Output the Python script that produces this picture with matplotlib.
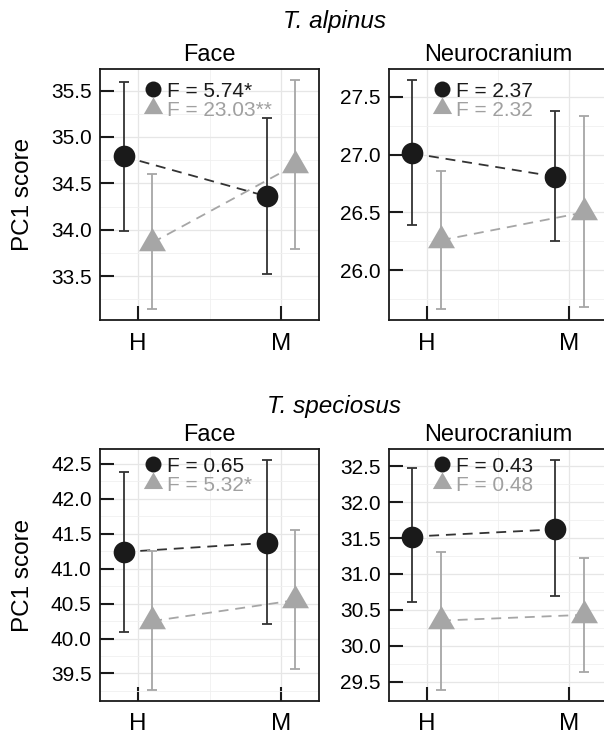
import matplotlib
matplotlib.use('Agg')
import matplotlib.pyplot as plt
from matplotlib.lines import Line2D
from matplotlib.ticker import MultipleLocator

plt.rcParams['font.family'] = ['Liberation Sans', 'DejaVu Sans']

groups = ['H', 'M']
species = ['T. alpinus', 'T. speciosus']
regions = ['Face', 'Neurocranium']

# T. alpinus - Face
alp_face_black = [34.79, 34.36]
alp_face_black_lo = [33.99, 33.52]
alp_face_black_hi = [35.59, 35.20]
alp_face_grey = [33.86, 34.70]
alp_face_grey_lo = [33.15, 33.79]
alp_face_grey_hi = [34.60, 35.61]
alp_face_F = ['F = 5.74*', 'F = 23.03**']

# T. alpinus - Neurocranium
alp_neuro_black = [27.01, 26.81]
alp_neuro_black_lo = [26.39, 26.25]
alp_neuro_black_hi = [27.64, 27.38]
alp_neuro_grey = [26.26, 26.50]
alp_neuro_grey_lo = [25.67, 25.68]
alp_neuro_grey_hi = [26.86, 27.33]
alp_neuro_F = ['F = 2.37', 'F = 2.32']

# T. speciosus - Face
spe_face_black = [41.24, 41.37]
spe_face_black_lo = [40.09, 40.21]
spe_face_black_hi = [42.38, 42.55]
spe_face_grey = [40.25, 40.55]
spe_face_grey_lo = [39.27, 39.57]
spe_face_grey_hi = [41.25, 41.55]
spe_face_F = ['F = 0.65', 'F = 5.32*']

# T. speciosus - Neurocranium
spe_neuro_black = [31.52, 31.62]
spe_neuro_black_lo = [30.61, 30.69]
spe_neuro_black_hi = [32.47, 32.58]
spe_neuro_grey = [30.35, 30.43]
spe_neuro_grey_lo = [29.39, 29.64]
spe_neuro_grey_hi = [31.31, 31.22]
spe_neuro_F = ['F = 0.43', 'F = 0.48']

panels = [
    (alp_face_black, alp_face_black_lo, alp_face_black_hi, alp_face_grey, alp_face_grey_lo, alp_face_grey_hi, alp_face_F),
    (alp_neuro_black, alp_neuro_black_lo, alp_neuro_black_hi, alp_neuro_grey, alp_neuro_grey_lo, alp_neuro_grey_hi, alp_neuro_F),
    (spe_face_black, spe_face_black_lo, spe_face_black_hi, spe_face_grey, spe_face_grey_lo, spe_face_grey_hi, spe_face_F),
    (spe_neuro_black, spe_neuro_black_lo, spe_neuro_black_hi, spe_neuro_grey, spe_neuro_grey_lo, spe_neuro_grey_hi, spe_neuro_F),
]

W, H = 604, 735
black = '#1a1a1a'
grey = '#a6a6a6'
tri = [(0, 1), (-0.866, -0.5), (0.866, -0.5)]

fig = plt.figure(figsize=(W / 100, H / 100), dpi=100)

# axes boxes in pixels: left, top, right, bottom
boxes = [(100, 69, 319, 320), (389, 69, 607, 320),
         (100, 449, 319, 701), (389, 449, 607, 701)]
leg_tops = [0.95, 0.95, 0.97, 0.97]

for i in range(4):
    l, t, r, b = boxes[i]
    ax = fig.add_axes([l / W, 1 - b / H, (r - l) / W, (b - t) / H])
    mb, lb, hb, mg, lg, hg, ftext = panels[i]
    x = list(range(len(groups)))
    xb = [v - 0.1 for v in x]
    xg = [v + 0.1 for v in x]

    ax.plot(xb, mb, color='#333333', lw=1.3, dashes=(5.5, 3.8), zorder=2)
    ax.plot(xg, mg, color=grey, lw=1.3, dashes=(5.5, 3.8), zorder=2)
    ax.errorbar(xb, mb, yerr=[[m - lo for m, lo in zip(mb, lb)], [hi - m for m, hi in zip(mb, hb)]],
                fmt='none', ecolor='#333333', elinewidth=1.3, capsize=3.3, capthick=1.3, zorder=3)
    ax.errorbar(xg, mg, yerr=[[m - lo for m, lo in zip(mg, lg)], [hi - m for m, hi in zip(mg, hg)]],
                fmt='none', ecolor=grey, elinewidth=1.3, capsize=3.3, capthick=1.3, zorder=3)
    ax.plot(xb, mb, 'o', color=black, ms=15.6, mec='none', zorder=4)
    ax.plot(xg, mg, marker=tri, ls='none', color=grey, ms=22.4, mec='none', zorder=4)

    lo = min(lb + lg)
    hi = max(hb + hg)
    pad = (hi - lo) * 0.05
    ax.set_ylim(lo - pad, hi + pad)
    ax.set_xlim(-0.264, 1.264)
    ax.set_xticks(x)
    ax.set_xticklabels(groups)
    ax.xaxis.set_minor_locator(MultipleLocator(0.5))
    ax.yaxis.set_major_locator(MultipleLocator(0.5))
    ax.yaxis.set_minor_locator(MultipleLocator(0.25))
    ax.yaxis.set_major_formatter(matplotlib.ticker.FormatStrFormatter('%.1f'))
    ax.grid(True, which='major', color='#e6e6e6', lw=0.9)
    ax.grid(True, which='minor', color='#f0f0f0', lw=0.6)
    ax.set_axisbelow(True)
    ax.tick_params(which='major', direction='in', length=10, width=1.5, color=black)
    ax.tick_params(which='minor', length=0)
    ax.tick_params(axis='x', labelsize=17.5, pad=9)
    ax.tick_params(axis='y', labelsize=15, pad=6)
    for s in ax.spines.values():
        s.set_linewidth(1.3)
        s.set_color(black)

    ax.set_title(regions[i % 2], fontsize=17, pad=6)

    handles = [Line2D([], [], marker='o', ls='none', color=black, ms=11.5, mec='none'),
               Line2D([], [], marker=tri, ls='none', color=grey, ms=16, mec='none')]
    leg = ax.legend(handles, ftext, loc='upper left', bbox_to_anchor=(0.2, leg_tops[i]),
                    frameon=False, fontsize=15, handlelength=0.9, handletextpad=0.2,
                    labelspacing=0.0, borderpad=0, borderaxespad=0)
    leg.get_texts()[0].set_color(black)
    leg.get_texts()[1].set_color('#a0a0a0')

    if i % 2 == 0:
        fig.text(23.5 / W, 1 - ((t + b) / 2) / H, 'PC1 score', rotation=90,
                 ha='center', va='center', fontsize=17.5)

fig.text(334 / W, 1 - 28 / H, species[0], style='italic', fontsize=17.5, ha='center', va='baseline')
fig.text(334 / W, 1 - 413 / H, species[1], style='italic', fontsize=17.5, ha='center', va='baseline')

plt.savefig('out.png', dpi=100)
